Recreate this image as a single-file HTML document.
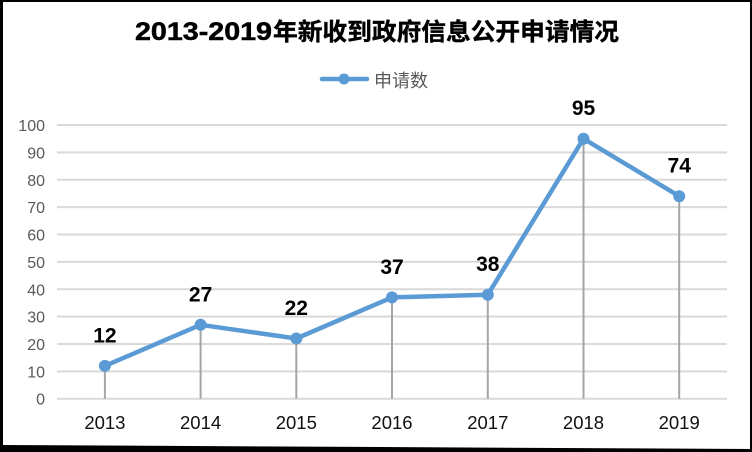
<!DOCTYPE html>
<html>
<head>
<meta charset="utf-8">
<style>
html,body{margin:0;padding:0;background:#fff;}
svg{display:block;}
</style>
</head>
<body>
<svg width="752" height="452" viewBox="0 0 752 452" xmlns="http://www.w3.org/2000/svg">
  <rect x="0" y="0" width="752" height="452" fill="#fff"/>
  <!-- borders -->
  <rect x="0" y="0" width="752" height="2" fill="#000"/>
  <rect x="0" y="0" width="3" height="452" fill="#000"/>
  <rect x="750" y="0" width="2" height="452" fill="#000"/>
  <polygon points="0,445 752,449 752,452 0,452" fill="#000"/>

  <!-- title -->
  <text x="135" y="40" font-family="Liberation Sans, sans-serif" font-weight="bold" font-size="25" fill="#000" stroke="#000" stroke-width="0.5" textLength="137" lengthAdjust="spacingAndGlyphs">2013-2019</text>
  <text x="273" y="40" font-family="Liberation Sans, 'Noto Sans CJK SC', sans-serif" font-weight="bold" font-size="24" fill="#000" stroke="#000" stroke-width="0.4" textLength="346" lengthAdjust="spacingAndGlyphs">年新收到政府信息公开申请情况</text>

  <!-- legend -->
  <line x1="322" y1="79" x2="367" y2="79" stroke="#5b9bd5" stroke-width="4.5" stroke-linecap="round"/>
  <circle cx="344" cy="79" r="5.5" fill="#5b9bd5"/>
  <text x="374" y="87" font-family="Liberation Sans, 'Noto Sans CJK SC', sans-serif" font-size="18" fill="#595959">申请数</text>

  <!-- grid -->
  <g stroke="#d9d9d9" stroke-width="2">
    <line x1="57" y1="125.0" x2="727" y2="125.0"/>
    <line x1="57" y1="152.4" x2="727" y2="152.4"/>
    <line x1="57" y1="179.8" x2="727" y2="179.8"/>
    <line x1="57" y1="207.1" x2="727" y2="207.1"/>
    <line x1="57" y1="234.5" x2="727" y2="234.5"/>
    <line x1="57" y1="261.9" x2="727" y2="261.9"/>
    <line x1="57" y1="289.3" x2="727" y2="289.3"/>
    <line x1="57" y1="316.6" x2="727" y2="316.6"/>
    <line x1="57" y1="344.0" x2="727" y2="344.0"/>
    <line x1="57" y1="371.4" x2="727" y2="371.4"/>
    <line x1="57" y1="398.7" x2="727" y2="398.7"/>
  </g>

  <!-- y labels -->
  <g font-family="Liberation Sans, sans-serif" font-size="16" fill="#595959" text-anchor="end">
    <text x="45" y="131">100</text>
    <text x="45" y="158.4">90</text>
    <text x="45" y="185.8">80</text>
    <text x="45" y="213.1">70</text>
    <text x="45" y="240.5">60</text>
    <text x="45" y="267.9">50</text>
    <text x="45" y="295.3">40</text>
    <text x="45" y="322.6">30</text>
    <text x="45" y="350">20</text>
    <text x="45" y="377.4">10</text>
    <text x="45" y="404.7">0</text>
  </g>

  <!-- drop lines -->
  <g stroke="#a5a5a5" stroke-width="2">
    <line x1="104.9" y1="365.9" x2="104.9" y2="398.7"/>
    <line x1="200.6" y1="324.8" x2="200.6" y2="398.7"/>
    <line x1="296.3" y1="338.5" x2="296.3" y2="398.7"/>
    <line x1="392" y1="297.4" x2="392" y2="398.7"/>
    <line x1="487.8" y1="294.7" x2="487.8" y2="398.7"/>
    <line x1="583.5" y1="138.7" x2="583.5" y2="398.7"/>
    <line x1="679.2" y1="196.2" x2="679.2" y2="398.7"/>
  </g>

  <!-- series -->
  <polyline points="104.9,365.9 200.6,324.8 296.3,338.5 392,297.4 487.8,294.7 583.5,138.7 679.2,196.2" fill="none" stroke="#5b9bd5" stroke-width="4.5" stroke-linejoin="round" stroke-linecap="round"/>
  <g fill="#5b9bd5">
    <circle cx="104.9" cy="365.9" r="6"/>
    <circle cx="200.6" cy="324.8" r="6"/>
    <circle cx="296.3" cy="338.5" r="6"/>
    <circle cx="392" cy="297.4" r="6"/>
    <circle cx="487.8" cy="294.7" r="6"/>
    <circle cx="583.5" cy="138.7" r="6"/>
    <circle cx="679.2" cy="196.2" r="6"/>
  </g>

  <!-- data labels -->
  <g font-family="Liberation Sans, sans-serif" font-size="21" font-weight="bold" fill="#000" text-anchor="middle">
    <text x="104.9" y="342.4">12</text>
    <text x="200.6" y="301.3">27</text>
    <text x="296.3" y="315">22</text>
    <text x="392" y="273.9">37</text>
    <text x="487.8" y="271.2">38</text>
    <text x="583.5" y="115.2">95</text>
    <text x="679.2" y="172.7">74</text>
  </g>

  <!-- x labels -->
  <g font-family="Liberation Sans, sans-serif" font-size="18.5" fill="#111" text-anchor="middle">
    <text x="104.9" y="429">2013</text>
    <text x="200.6" y="429">2014</text>
    <text x="296.3" y="429">2015</text>
    <text x="392" y="429">2016</text>
    <text x="487.8" y="429">2017</text>
    <text x="583.5" y="429">2018</text>
    <text x="679.2" y="429">2019</text>
  </g>
</svg>
</body>
</html>
